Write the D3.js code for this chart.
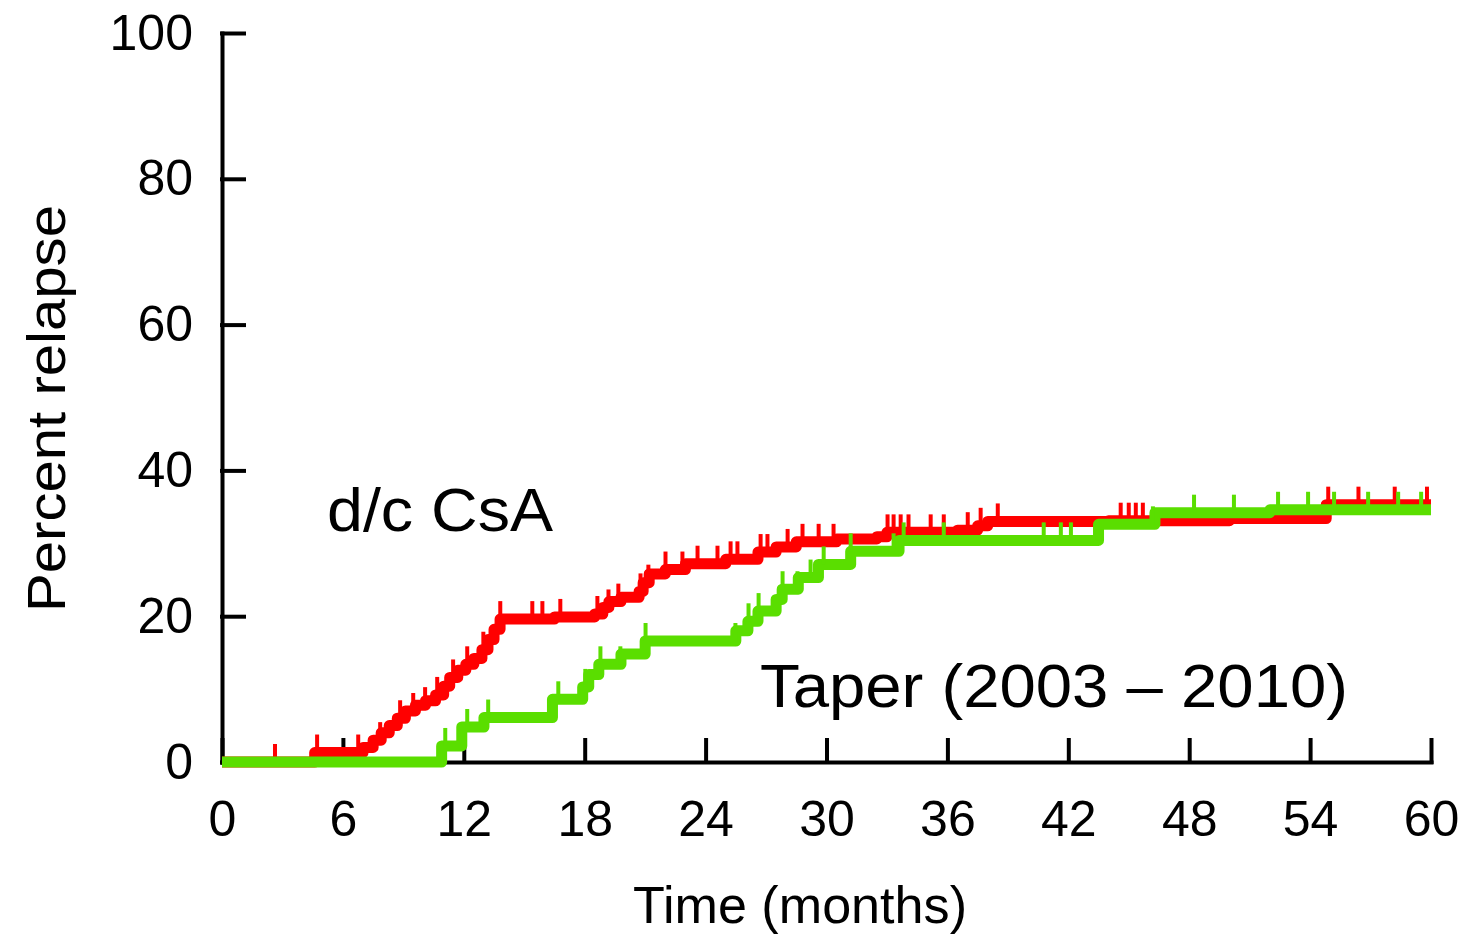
<!DOCTYPE html>
<html>
<head>
<meta charset="utf-8">
<script src="https://cdn.jsdelivr.net/npm/d3@7"></script>
<style>
  body { margin: 0; background: #fff; }
  text { font-family: "Liberation Sans", Arial, sans-serif; fill: #000; }
</style>
</head>
<body>
<div id="chart"></div>
<script>
// step curves: [month, percent relapse]
const dcCsaSteps = [
  [0, 0], [4.6, 1.3], [7.0, 2.0], [7.5, 3.0], [7.9, 4.0], [8.3, 5.0], [8.7, 6.0],
  [9.1, 7.0], [9.6, 7.8], [10.1, 8.4], [10.6, 9.2], [11.0, 10.4], [11.3, 11.6],
  [11.7, 12.6], [12.1, 13.4], [12.5, 14.2], [12.9, 15.4], [13.2, 16.8], [13.5, 18.2],
  [13.8, 19.6], [16.5, 19.9], [18.5, 20.3], [18.9, 21.2], [19.2, 22.0], [19.8, 22.6],
  [20.7, 23.4], [20.9, 24.6], [21.2, 25.8], [22.0, 26.4], [23.0, 27.2], [25.0, 27.8],
  [26.6, 28.8], [27.5, 29.5], [28.5, 30.2], [30.5, 30.6], [32.5, 30.9], [33.0, 31.5],
  [36.5, 31.8], [37.5, 32.4], [38.0, 33.0], [44.0, 33.1], [50.0, 33.4], [54.8, 35.3], [60, 35.3]
];
const taperSteps = [
  [0, 0], [10.9, 2.2], [11.9, 4.8], [13.0, 6.1], [16.4, 8.6], [17.9, 10.3], [18.2, 12.0],
  [18.7, 13.4], [19.8, 14.8], [21.0, 16.6], [25.5, 18.0], [26.1, 19.3], [26.6, 20.7],
  [27.5, 22.3], [27.8, 23.7], [28.6, 25.3], [29.6, 27.1], [31.2, 28.9], [33.6, 30.4],
  [43.5, 32.6], [46.3, 34.2], [52.0, 34.6], [60, 34.6]
];

// censored observations (months)
const dcCsaCensored = [2.63, 4.72, 6.76, 7.85, 8.84, 9.49, 10.08, 10.68, 11.47, 12.17, 12.97,
  13.81, 15.4, 15.9, 16.79, 18.63, 19.18, 19.67, 20.77, 21.16, 22.01, 22.85, 23.6, 24.59,
  25.24, 25.58, 26.73, 27.07, 28.07, 28.81, 29.61, 30.35, 33.03, 33.33, 33.68, 34.07,
  35.17, 35.82, 37.01, 37.65, 38.5, 44.6, 45.0, 45.35, 45.7, 54.9, 56.4, 58.2, 59.8];
const taperCensored = [11.08, 12.17, 13.21, 16.69, 18.03, 18.78, 19.77, 21.02, 25.48, 26.13,
  26.63, 27.82, 28.56, 29.21, 29.86, 31.2, 33.33, 33.83, 35.82, 40.78, 41.63, 42.13,
  43.47, 46.2, 48.24, 50.22, 52.41, 53.9, 55.19, 56.88, 58.37, 59.51];

const xTicks = [0, 6, 12, 18, 24, 30, 36, 42, 48, 54, 60];
const yTicks = [0, 20, 40, 60, 80, 100];

const width = 1467;
const height = 937;

const svg = d3.select("#chart").append("svg")
    .attr("width", width)
    .attr("height", height);

const x = d3.scaleLinear().domain([0, 60]).range([222, 1431]);
const y = d3.scaleLinear().domain([0, 100]).range([762, 33]);

// axes, ticks pointing inward
const xAxisG = svg.append("g")
    .attr("transform", "translate(0," + y(0) + ")")
    .call(d3.axisBottom(x).tickValues(xTicks).tickSizeInner(-22).tickSizeOuter(0).tickPadding(38));

const yAxisG = svg.append("g")
    .attr("transform", "translate(" + x(0) + ",0)")
    .call(d3.axisLeft(y).tickValues(yTicks).tickSizeInner(-22).tickSizeOuter(0).tickPadding(29));

[xAxisG, yAxisG].forEach(function(g) {
  g.selectAll("path, line")
      .attr("stroke", "#000")
      .attr("stroke-width", 4)
      .attr("stroke-linecap", "square");
  g.selectAll("text")
      .style("font-family", "'Liberation Sans', Arial, sans-serif")
      .style("font-size", "50px")
      .attr("fill", "#000");
});

// value of a step curve at time t
function valueAt(steps, t) {
  let v = 0;
  steps.forEach(function(s) { if (s[0] <= t) v = s[1]; });
  return v;
}

const line = d3.line()
    .x(function(d) { return x(d[0]); })
    .y(function(d) { return y(d[1]); })
    .curve(d3.curveStepAfter);

const series = [
  { name: "dc", steps: dcCsaSteps, censored: dcCsaCensored, color: "#ff0000" },
  { name: "taper", steps: taperSteps, censored: taperCensored, color: "#5ade00" }
];

series.forEach(function(s) {
  svg.append("path")
      .datum(s.steps)
      .attr("fill", "none")
      .attr("stroke", s.color)
      .attr("stroke-width", 11)
      .attr("stroke-linejoin", "round")
      .attr("d", line);

  svg.selectAll(".cens-" + s.name)
      .data(s.censored)
      .enter().append("line")
      .attr("class", "cens-" + s.name)
      .attr("x1", function(d) { return x(d); })
      .attr("x2", function(d) { return x(d); })
      .attr("y1", function(d) { return y(valueAt(s.steps, d)); })
      .attr("y2", function(d) { return y(valueAt(s.steps, d)) - 18; })
      .attr("stroke", s.color)
      .attr("stroke-width", 4);
});

// labels, stretched to the widths seen in the picture
svg.append("text")
    .attr("x", 633)
    .attr("y", 923)
    .attr("textLength", 334)
    .attr("lengthAdjust", "spacingAndGlyphs")
    .style("font-size", "52px")
    .text("Time (months)");

svg.append("text")
    .attr("transform", "translate(65,612) rotate(-90)")
    .attr("textLength", 407)
    .attr("lengthAdjust", "spacingAndGlyphs")
    .style("font-size", "54px")
    .text("Percent relapse");

svg.append("text")
    .attr("x", 327)
    .attr("y", 531)
    .attr("textLength", 226)
    .attr("lengthAdjust", "spacingAndGlyphs")
    .style("font-size", "62px")
    .text("d/c CsA");

svg.append("text")
    .attr("x", 760)
    .attr("y", 707)
    .attr("textLength", 588)
    .attr("lengthAdjust", "spacingAndGlyphs")
    .style("font-size", "62px")
    .text("Taper (2003 \u2013 2010)");
</script>
</body>
</html>
